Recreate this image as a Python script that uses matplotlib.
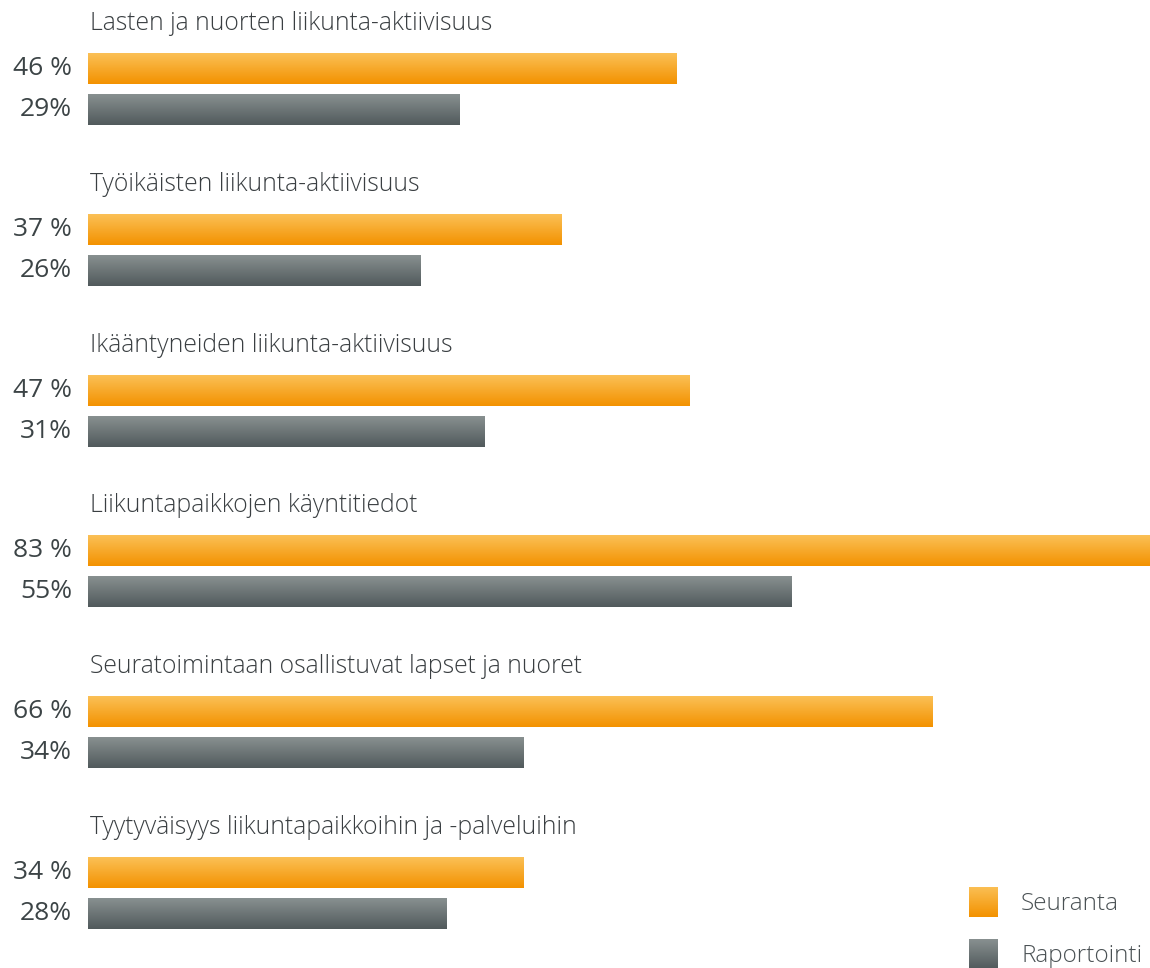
import numpy as np
import matplotlib.pyplot as plt
from matplotlib.colors import LinearSegmentedColormap

categories = ['Lasten ja nuorten liikunta-aktiivisuus',
              'Työikäisten liikunta-aktiivisuus',
              'Ikääntyneiden liikunta-aktiivisuus',
              'Liikuntapaikkojen käyntitiedot',
              'Seuratoimintaan osallistuvat lapset ja nuoret',
              'Tyytyväisyys liikuntapaikkoihin ja -palveluihin']
seuranta = [46, 37, 47, 83, 66, 34]
raportointi = [29, 26, 31, 55, 34, 28]
series_names = ['Seuranta', 'Raportointi']

plt.rcParams['font.family'] = ['Open Sans', 'DejaVu Sans']

orange_cmap = LinearSegmentedColormap.from_list('o', ['#fbc056', '#f39200'])
gray_cmap = LinearSegmentedColormap.from_list('g', ['#889090', '#515a5c'])
grad = np.linspace(0, 1, 64).reshape(-1, 1)

W, H = 1150, 968
fig = plt.figure(figsize=(W / 100, H / 100), dpi=100)
ax = fig.add_axes([88 / W, 0, 1 - 88 / W, 1])
ax.axis('off')

step = 160.8
bar_h = 31
pos_o = [68.5 + i * step for i in range(len(categories))]
pos_g = [109.5 + i * step for i in range(len(categories))]

def gradient_bars(vals, pos, cmap):
    bars = ax.barh(pos, vals, height=bar_h, color='none', left=0)
    for b in bars:
        x0, y0 = b.get_x(), b.get_y()
        ax.imshow(grad, cmap=cmap, aspect='auto', interpolation='bilinear',
                  extent=[x0, x0 + b.get_width(), y0 + b.get_height(), y0], zorder=2)
    return bars

gradient_bars(seuranta, pos_o, orange_cmap)
gradient_bars(raportointi, pos_g, gray_cmap)
ax.set_xlim(0, 83)
ax.set_ylim(H, 0)

label_x = 72
for i, cat in enumerate(categories):
    fig.text(90 / W, 1 - (pos_o[i] - 45) / H, cat, fontsize=17.8, color='#3a3f42',
             fontweight='light', ha='left', va='center')
    fig.text(label_x / W, 1 - pos_o[i] / H, f'{seuranta[i]} %', fontsize=19,
             color='#3c4446', fontweight='medium', ha='right', va='center')
    fig.text(label_x / W, 1 - pos_g[i] / H, f'{raportointi[i]}%', fontsize=19,
             color='#3c4446', fontweight='medium', ha='right', va='center')

# legend
for j, (name, cmap) in enumerate(zip(series_names, [orange_cmap, gray_cmap])):
    top = 887 + j * 52
    lax = fig.add_axes([969 / W, 1 - (top + 30) / H, 29 / W, 30 / H])
    lax.imshow(grad, cmap=cmap, aspect='auto', interpolation='bilinear')
    lax.axis('off')
    fig.text(1021 / W, 1 - (top + 17) / H, name, fontsize=17.5, color='#4a5154',
             fontweight='light', ha='left', va='center')

fig.savefig('out.png', dpi=100, facecolor='white')
